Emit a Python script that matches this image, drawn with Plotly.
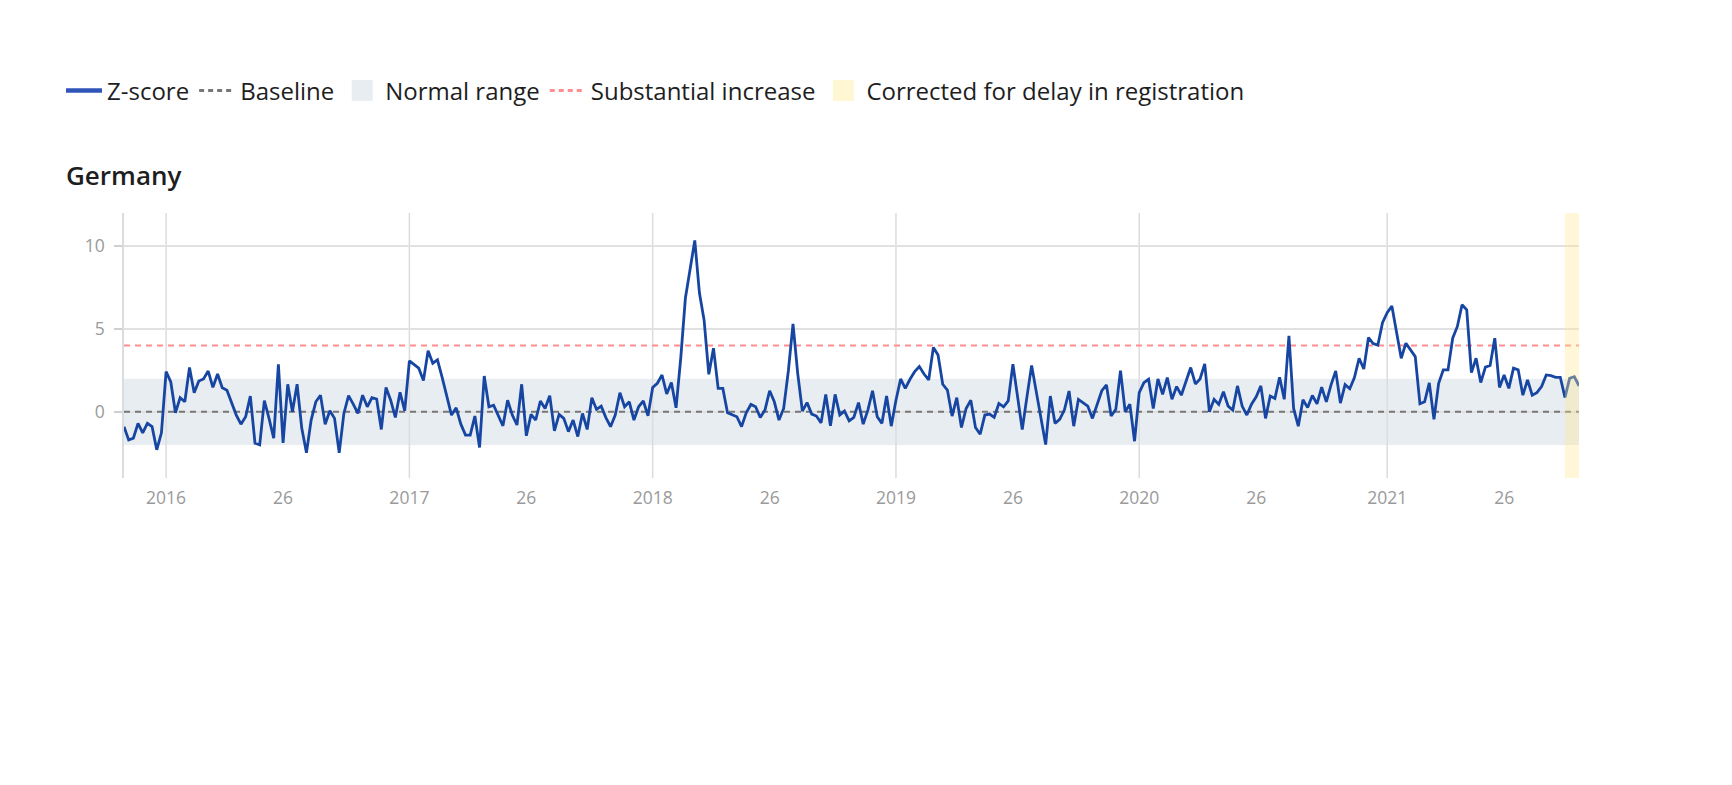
import plotly.graph_objects as go

# ---------------- data ----------------
country = "Germany"
start_year = 2015
start_week = 45
iso_weeks_in_year = {2015: 53, 2016: 52, 2017: 52, 2018: 52, 2019: 52, 2020: 53, 2021: 52}

z_2015 = [-0.9, -1.7, -1.6, -0.7, -1.27, -0.7, -0.9, -2.3, -1.27]
z_2016 = [2.42, 1.8, -0.06, 0.85, 0.6, 2.67, 1.15, 1.86, 1.98, 2.46,
          1.47, 2.28, 1.45, 1.3, 0.6, -0.2, -0.75, -0.3, 0.95, -1.9,
          -2.0, 0.67, -0.4, -1.6, 2.87, -1.88, 1.66, 0.0, 1.66, -1.0,
          -2.48, -0.5, 0.6, 1.0, -0.75, 0.06, -0.4, -2.48, -0.1, 0.97,
          0.46, -0.1, 1.0, 0.3, 0.85, 0.77, -1.07, 1.47, 0.7, -0.34,
          1.17, 0.06]
z_2017 = [3.07, 2.87, 2.63, 1.88, 3.68, 2.93, 3.13, 2.08, 1.0, -0.2,
          0.24, -0.75, -1.41, -1.41, -0.26, -2.16, 2.16, 0.3, 0.4, -0.24,
          -0.85, 0.7, -0.2, -0.8, 1.66, -1.45, -0.16, -0.5, 0.65, 0.2,
          0.97, -1.15, -0.16, -0.4, -1.2, -0.5, -1.5, -0.1, -1.07, 0.85,
          0.14, 0.34, -0.35, -0.9, -0.2, 1.15, 0.3, 0.6, -0.5, 0.3,
          0.65, -0.24]
z_2018 = [1.47, 1.72, 2.22, 1.07, 1.76, 0.24, 3.23, 6.87, 8.59, 10.34,
          7.17, 5.52, 2.26, 3.84, 1.41, 1.41, -0.06, -0.16, -0.3, -0.9,
          -0.06, 0.44, 0.3, -0.34, 0.1, 1.27, 0.6, -0.5, 0.2, 2.46,
          5.31, 2.32, 0.04, 0.55, -0.14, -0.26, -0.67, 1.05, -0.85, 1.05,
          -0.2, 0.04, -0.55, -0.34, 0.55, -0.75, 0.1, 1.27, -0.3, -0.7,
          0.95, -0.87]
z_2019 = [0.7, 1.98, 1.41, 1.96, 2.42, 2.73, 2.28, 1.92, 3.88, 3.43,
          1.66, 1.31, -0.26, 0.85, -0.95, 0.2, 0.7, -0.95, -1.35, -0.2,
          -0.14, -0.34, 0.5, 0.3, 0.65, 2.87, 0.9, -1.07, 0.9, 2.79,
          1.2, -0.4, -1.98, 0.95, -0.7, -0.46, 0.1, 1.25, -0.87, 0.75,
          0.55, 0.34, -0.4, 0.4, 1.27, 1.62, -0.26, 0.15, 2.48, 0.0,
          0.45, -1.78]
z_2020 = [1.15, 1.76, 1.96, 0.2, 1.98, 1.05, 2.06, 0.75, 1.52, 1.0,
          1.78, 2.67, 1.68, 1.98, 2.89, 0.0, 0.75, 0.44, 1.21, 0.34,
          0.1, 1.56, 0.34, -0.2, 0.46, 0.9, 1.56, -0.4, 0.95, 0.8,
          2.08, 0.75, 4.59, 0.2, -0.87, 0.72, 0.25, 0.98, 0.48, 1.48,
          0.6, 1.62, 2.47, 0.52, 1.64, 1.39, 2.06, 3.23, 2.58, 4.48,
          4.12, 4.02, 5.38]
z_2021 = [5.98, 6.38, 4.75, 3.23, 4.14, 3.72, 3.33, 0.48, 0.6, 1.74,
          -0.46, 1.72, 2.53, 2.53, 4.44, 5.15, 6.46, 6.16, 2.36, 3.23,
          1.76, 2.69, 2.79, 4.44, 1.47, 2.22, 1.41, 2.63, 2.53, 1.0,
          1.92, 1.0, 1.15, 1.52, 2.22, 2.18, 2.08, 2.08, 0.87, 2.02,
          2.12, 1.56]

baseline_value = 0
normal_range = [-2, 2]
substantial_increase = 4
corrected_from = "2021-W39"
mid_year_week = 26

# ---------------- derived ----------------
z_score = z_2015 + z_2016 + z_2017 + z_2018 + z_2019 + z_2020 + z_2021

week_labels, week_year, week_num = [], [], []
yr, wk = start_year, start_week
for _ in z_score:
    week_labels.append(f"{yr}-W{wk:02d}")
    week_year.append(yr)
    week_num.append(wk)
    wk += 1
    if wk > iso_weeks_in_year[yr]:
        yr, wk = yr + 1, 1

x_idx = list(range(len(z_score)))
tickvals, ticktext, year_starts = [], [], []
for i, (y, w) in enumerate(zip(week_year, week_num)):
    if w == 1:
        tickvals.append(i); ticktext.append(str(y)); year_starts.append(i)
    elif w == mid_year_week:
        tickvals.append(i); ticktext.append(str(mid_year_week))
corr_start = week_labels.index(corrected_from)

FONT = "Open Sans"
BLUE = "#1746a2"
GREY_TXT = "#9a9a9a"
BASE_GREY = "#777777"
RED = "#ff8f8f"
BAND = "#e8edf2"
YELLOW_LEGEND = "#fff7d3"

fig = go.Figure()

# normal range band + year gridlines
fig.add_hrect(y0=normal_range[0], y1=normal_range[1], fillcolor=BAND,
              line_width=0, layer="below")
for xs in year_starts:
    fig.add_vline(x=xs, line_color="#dcdcdc", line_width=1.5, layer="below")

# baseline and threshold lines
fig.add_trace(go.Scatter(x=[x_idx[0], x_idx[-1]], y=[baseline_value] * 2,
                         mode="lines", showlegend=False, hoverinfo="skip",
                         line=dict(color=BASE_GREY, width=2, dash="6px,5px")))
fig.add_trace(go.Scatter(x=[x_idx[0], x_idx[-1]], y=[substantial_increase] * 2,
                         mode="lines", showlegend=False, hoverinfo="skip",
                         line=dict(color=RED, width=2, dash="6px,5px")))
# z-score
fig.add_trace(go.Scatter(x=x_idx, y=z_score, mode="lines", showlegend=False,
                         text=week_labels,
                         hovertemplate="%{text}: %{y:.2f}<extra></extra>",
                         line=dict(color=BLUE, width=2.8)))

# legend entries
fig.add_trace(go.Scatter(x=[None], y=[None], mode="lines", name="Z-score",
                         line=dict(color="#2f55b8", width=4.5)))
fig.add_trace(go.Scatter(x=[None], y=[None], mode="lines", name="Baseline",
                         line=dict(color=BASE_GREY, width=3, dash="5px,4px")))
fig.add_trace(go.Scatter(x=[None], y=[None], mode="markers", name="Normal range",
                         marker=dict(symbol="square", size=16, color=BAND,
                                     line=dict(color=BAND, width=5))))
fig.add_trace(go.Scatter(x=[None], y=[None], mode="lines",
                         name="Substantial increase",
                         line=dict(color=RED, width=3, dash="5px,4px")))
fig.add_trace(go.Scatter(x=[None], y=[None], mode="markers",
                         name="Corrected for delay in registration",
                         marker=dict(symbol="square", size=16, color=YELLOW_LEGEND,
                                     line=dict(color=YELLOW_LEGEND, width=5))))

# corrected-for-delay band (on top, translucent)
fig.add_vrect(x0=corr_start, x1=x_idx[-1], fillcolor="#ffe98f", opacity=0.35,
              line_width=0, layer="above")

fig.update_layout(
    width=1732, height=785,
    margin=dict(l=124, r=153, t=213, b=307),
    paper_bgcolor="white", plot_bgcolor="white",
    font=dict(family=FONT, color="#1e1e1e"),
    title=dict(text=country, x=66 / 1732, xref="container", xanchor="left",
               y=1 - 176 / 785, yref="container", yanchor="middle",
               font=dict(family=FONT, size=26, weight=600, color="#1e1e1e")),
    legend=dict(orientation="h", xref="container", yref="container",
                x=61 / 1732, xanchor="left", y=1 - 91 / 785, yanchor="middle",
                font=dict(family=FONT, size=24, weight=500, color="#1e1e1e"),
                itemwidth=36, tracegroupgap=0, bgcolor="rgba(0,0,0,0)"),
    showlegend=True,
    hovermode="closest",
)
fig.update_xaxes(range=[x_idx[0], x_idx[-1]], tickmode="array",
                 tickvals=tickvals, ticktext=ticktext, showgrid=False,
                 zeroline=False, showline=False, ticks="",
                 ticklabelstandoff=7,
                 tickfont=dict(family=FONT, size=17.5, color=GREY_TXT))
fig.update_yaxes(range=[-4, 12], tickmode="array", tickvals=[0, 5, 10],
                 showgrid=True, gridcolor="#e1e1e1", gridwidth=1.5,
                 zeroline=False, showline=True, linecolor="#dcdcdc",
                 linewidth=1.5, ticks="outside", ticklen=8, tickwidth=1.5,
                 tickcolor="#cfcfcf", ticklabelstandoff=6,
                 tickfont=dict(family=FONT, size=17.5, color=GREY_TXT))

fig.write_html("out.html", config={"displayModeBar": False},
               post_script="document.body.style.margin='0';")
